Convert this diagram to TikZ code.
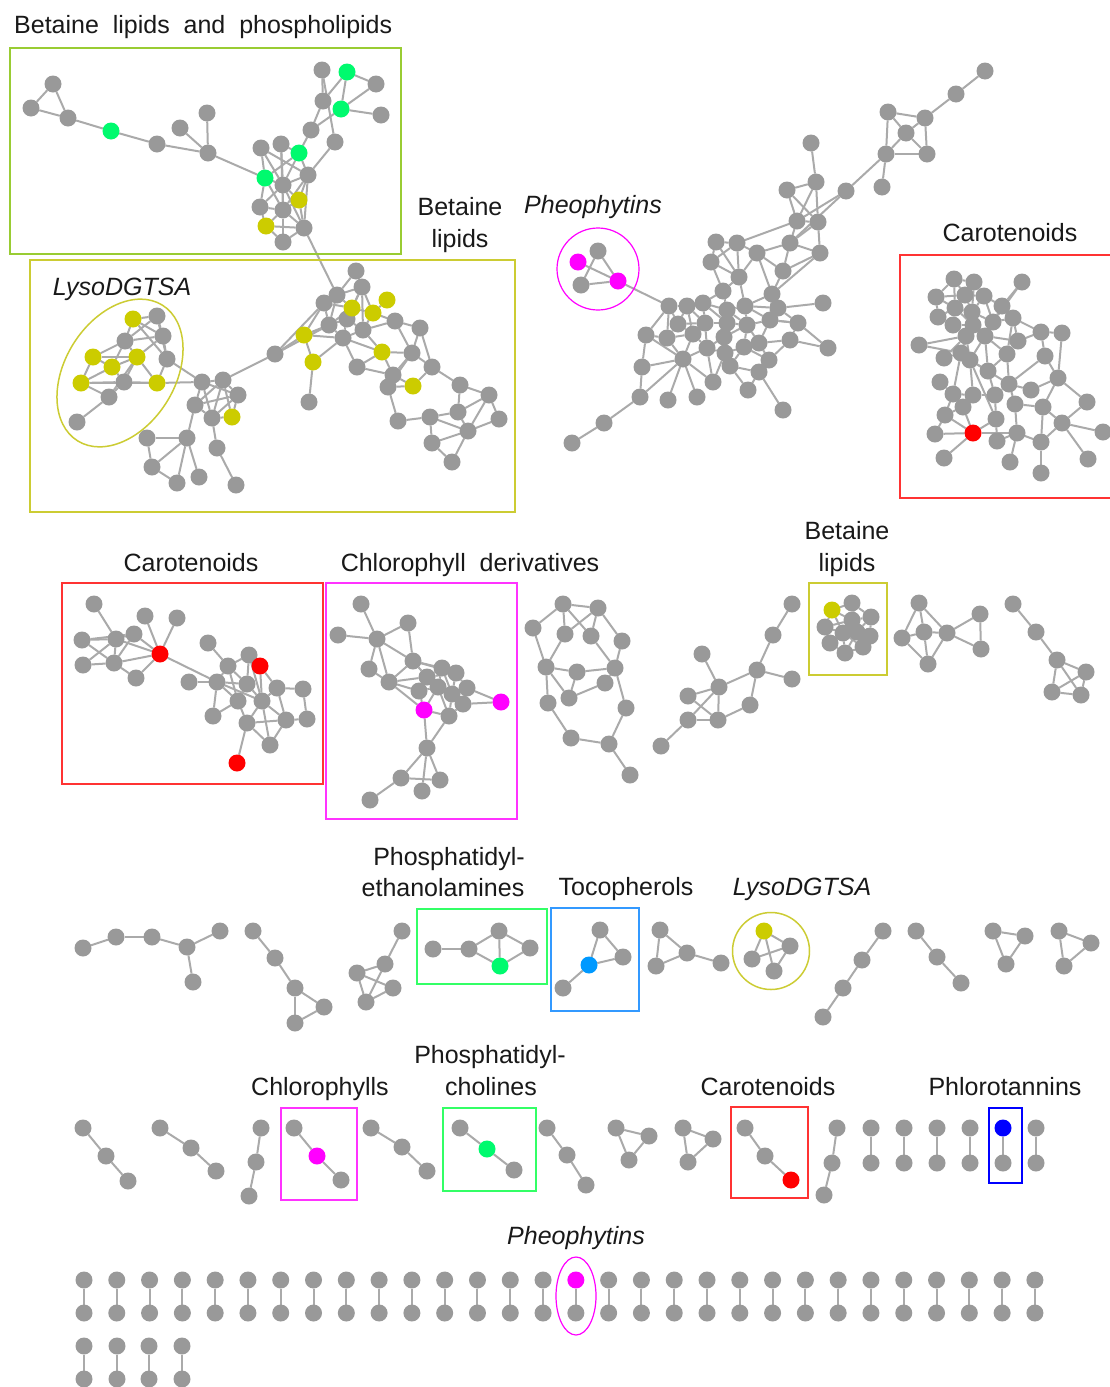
\documentclass[tikz,border=0pt]{standalone}
\usepackage{fontspec}
\setmainfont{Liberation Sans}
\definecolor{ndgray}{RGB}{153,153,153}
\definecolor{edgray}{RGB}{170,170,170}
\definecolor{ngreen}{RGB}{0,250,110}
\definecolor{nyel}{RGB}{204,204,0}
\definecolor{nmag}{RGB}{255,0,255}
\definecolor{nred}{RGB}{255,0,0}
\definecolor{ntoc}{RGB}{0,153,255}
\definecolor{nblue}{RGB}{0,0,255}
\definecolor{btlgreen}{RGB}{153,204,51}
\definecolor{blyso}{RGB}{204,204,51}
\definecolor{bred}{RGB}{255,51,51}
\definecolor{bmag}{RGB}{255,51,255}
\definecolor{bgreen}{RGB}{51,255,102}
\definecolor{btoc}{RGB}{51,153,255}
\pgfdeclarelayer{bg}
\pgfsetlayers{bg,main}
\begin{document}
\begin{tikzpicture}[x=1pt,y=-1pt,
  gn/.style={circle,fill=ndgray,draw=none,minimum size=17pt,inner sep=0pt,outer sep=0pt},
  ed/.style={draw=edgray,line width=2pt},
  lab/.style={font=\fontsize{25}{28}\selectfont,anchor=base,inner sep=0pt,text=black!90},
  frame/.style={line width=1.5pt}]
\useasboundingbox (0,0) rectangle (1110,1387);
\begin{pgfonlayer}{bg}
\fill[white] (0,0) rectangle (1110,1387);
\end{pgfonlayer}

% ---------- frames ----------
\draw[frame,btlgreen] (10,48) rectangle (401,254);
\draw[frame,blyso] (30,260) rectangle (515,512);
\draw[frame,blyso,rotate around={58:(120,373)}] (120,373) ellipse [x radius=80pt, y radius=55pt];
\draw[frame,nmag,line width=1.2pt] (598,269) circle [radius=41pt];
\draw[frame,bred] (900,255) rectangle (1120,498);
\draw[frame,bred] (62,583) rectangle (323,784);
\draw[frame,bmag] (326,583) rectangle (517,819);
\draw[frame,blyso] (809,583) rectangle (887,675);
\draw[frame,bgreen] (417,909) rectangle (547,984);
\draw[frame,btoc] (551,908) rectangle (639,1011);
\draw[frame,blyso] (771,951) circle [radius=38.5pt];
\draw[frame,bmag] (281,1108) rectangle (357,1200);
\draw[frame,bgreen] (443,1108) rectangle (536,1191);
\draw[frame,bred] (731,1107) rectangle (808,1198);
\draw[frame,nblue] (989,1108) rectangle (1022,1183);
\draw[frame,nmag,line width=1.2pt] (576,1296) ellipse [x radius=20pt, y radius=39pt];

% ---------- labels ----------
\node[lab,anchor=base west] (lbA) at (14,33) {Betaine~ lipids~ and~ phospholipids};
\node[lab] (lbB1) at (460,215) {Betaine};
\node[lab] (lbB2) at (460,247) {lipids};
\node[lab,font=\fontsize{25}{28}\selectfont\itshape] (lbC) at (593,213) {Pheophytins};
\node[lab] (lbD) at (1010,241) {Carotenoids};
\node[lab,font=\fontsize{25}{28}\selectfont\itshape] (lbE) at (122,295) {LysoDGTSA};
\node[lab] (lbF) at (191,571) {Carotenoids};
\node[lab] (lbG) at (470,571) {Chlorophyll~ derivatives};
\node[lab] (lbH1) at (847,539) {Betaine};
\node[lab] (lbH2) at (847,571) {lipids};
\node[lab] (lbI1) at (449,865) {Phosphatidyl-};
\node[lab] (lbI2) at (443,896) {ethanolamines};
\node[lab] (lbJ) at (626,895) {Tocopherols};
\node[lab,font=\fontsize{25}{28}\selectfont\itshape] (lbK) at (802,895) {LysoDGTSA};
\node[lab] (lbL) at (320,1095) {Chlorophylls};
\node[lab] (lbM1) at (490,1063) {Phosphatidyl-};
\node[lab] (lbM2) at (491,1095) {cholines};
\node[lab] (lbN) at (768,1095) {Carotenoids};
\node[lab] (lbO) at (1005,1095) {Phlorotannins};
\node[lab,font=\fontsize{25}{28}\selectfont\itshape] (lbP) at (576,1244) {Pheophytins};

% ---------- gray nodes ----------
\foreach \n/\x/\y in {
 a1/53/84, a2/31/108, a3/68/118, a4/157/144, a5/180/128, a6/207/113, a7/208/153,
 a8/261/148, a9/281/144, a10/308/175, a11/283/185, a12/260/207, a13/283/210,
 a14/304/228, a15/283/242, a16/311/130, a17/335/142, a18/323/101, a19/322/70,
 a20/376/84, a21/381/115,
 b1/157/316, b2/125/341, b3/163/336, b4/167/359, b5/124/382, b6/109/397, b7/77/422,
 c1/202/382, c2/223/380, c3/238/395, c4/195/405, c5/212/418, c6/275/354,
 d1/147/438, d2/187/438, d3/152/467, d4/177/483, d5/199/477, d6/217/448, d7/236/485,
 e1/356/271, e2/362/287, e3/337/295, e4/324/303, e5/347/319, e6/329/325, e7/363/330,
 e8/395/321, e9/420/328, e10/343/338, e11/412/353, e13/357/367, e14/432/367,
 e15/393/375, e16/388/387, e17/309/402, e18/460/385, e19/489/395, e20/398/421,
 e21/430/417, e22/458/412, e23/499/419, e24/468/431, e25/432/443, e26/452/462,
 ta/985/71, tb/956/94, tc/925/118, td/888/112, te/906/133, tf/886/154, tg/927/154, th/882/187,
 f1/811/143, f2/816/182, f3/787/190, f4/846/191, f5/797/221, f6/818/222, f7/790/243,
 f8/716/242, f9/737/243,
 h42/711/262, h43/757/253, h44/783/271, h48/820/253, h39/739/277, h38/723/291,
 h22/772/294, h36/823/303,
 h1/669/306, h2/687/306, h3/703/303, h4/678/324, h5/705/323, h6/646/335, h7/667/338,
 h8/693/334, h9/727/310, h10/727/323, h11/724/337, h12/747/325, h13/745/306,
 h14/707/348, h15/683/359, h16/725/353, h17/730/366, h18/744/347, h19/759/343,
 h20/770/320, h21/778/308, h23/798/323, h24/790/340, h25/769/360, h26/759/372,
 h27/642/367, h28/713/382, h29/748/390, h30/697/397, h31/668/400, h32/640/397,
 h33/604/423, h34/572/443, h35/783/410, h37/828/348,
 p2/598/251, p3/581/285,
 k1/954/279, k2/974/282, k3/1022/282, k4/936/297, k5/965/295, k6/984/296, k7/1002/306,
 k8/938/317, k9/955/308, k10/972/312, k11/953/325, k12/973/325, k13/993/322,
 k14/1013/318, k15/966/336, k16/985/336, k17/1018/341, k18/1041/332, k19/1062/333,
 k20/919/345, k21/944/358, k22/961/353, k23/970/360, k24/1007/354, k25/1045/356,
 k26/988/371, k27/940/382, k28/1058/378, k29/1009/384, k30/1031/390, k31/953/394,
 k32/973/395, k33/995/395, k34/963/407, k35/1015/404, k36/1043/407, k37/1087/402,
 k38/945/415, k39/996/419, k40/1062/423, k41/935/434, k42/1017/433, k43/1103/432,
 k44/997/441, k45/1041/442, k46/944/458, k47/1010/462, k48/1088/459, k49/1041/473,
 l1/94/604, l2/145/616, l3/177/618, l4/82/640, l5/116/639, l6/134/634, l7/83/665,
 l8/114/663, l9/136/678, l10/208/643, l11/249/655, l12/228/666, l13/189/682,
 l14/217/682, l15/247/684, l16/277/688, l17/303/689, l18/238/701, l19/262/701,
 l20/213/716, l21/247/723, l22/286/720, l23/307/719, l24/270/745,
 m1/361/604, m2/408/623, m3/338/635, m4/377/639, m5/369/669, m6/413/661, m7/389/682,
 m8/427/677, m9/442/668, m10/456/673, m11/467/688, m12/463/704, m13/449/716,
 m14/419/691, m15/438/687, m16/452/694, m17/427/748, m18/401/778, m19/422/791,
 m20/440/780, m21/370/800,
 n1/563/604, n2/598/608, n3/533/628, n4/565/634, n5/591/636, n6/622/641, n7/546/667,
 n8/577/672, n9/615/668, n10/605/683, n11/569/698, n12/548/703, n13/626/708,
 n14/571/738, n15/609/744, n16/630/775,
 s1/792/604, s2/773/635, s3/702/654, s4/757/670, s5/792/679, s6/719/687, s7/688/696,
 s8/750/705, s9/688/720, s10/718/720, s11/661/746,
 bt1/852/603, bt2/871/617, bt3/825/627, bt4/843/633, bt5/857/632, bt6/870/636,
 bt7/830/643, bt8/863/647, bt9/845/653, bt10/852/620,
 u1/919/603, u2/902/638, u3/924/632, u4/947/633, u5/980/614, u6/981/649, u7/928/664,
 v1/1013/604, v2/1036/632, v3/1057/660, v4/1086/672, v5/1052/692, v6/1081/695,
 w1/83/948, w2/116/937, w3/152/937, w4/187/947, w5/220/931, w6/193/982,
 x1/253/931, x2/275/958, x3/295/988, x4/324/1007, x5/295/1023,
 z1/402/931, z2/385/964, z3/357/973, z4/393/988, z5/366/1002,
 pe1/433/949, pe2/469/949, pe3/499/931, pe4/530/948,
 tc1/600/930, tc2/623/957, tc3/563/988,
 q1/660/930, q2/687/953, q3/656/966, q4/721/963,
 ly2/790/946, ly3/752/959, ly4/774/971,
 ch1/883/931, ch2/862/960, ch3/843/988, ch4/823/1017,
 cs1/916/931, cs2/937/957, cs3/961/983,
 tra/993/931, trb/1025/936, trc/1006/964,
 tsa/1059/931, tsb/1091/943, tsc/1064/966,
 r4a1/83/1128, r4a2/106/1156, r4a3/128/1181,
 r4b1/160/1128, r4b2/191/1148, r4b3/216/1171,
 r4c1/261/1128, r4c2/256/1162, r4c3/249/1196,
 r4d1/294/1128, r4d3/341/1180,
 r4e1/371/1128, r4e2/402/1147, r4e3/427/1171,
 r4f1/460/1128, r4f3/514/1170,
 r4g1/547/1128, r4g2/567/1155, r4g3/586/1185,
 r4h1/616/1128, r4h2/649/1136, r4h3/629/1160,
 r4i1/683/1128, r4i2/713/1139, r4i3/688/1162,
 r4j1/745/1128, r4j2/765/1156,
 r4k1/837/1128, r4k2/832/1163, r4k3/824/1195,
 r4p1/871/1128, r4q1/871/1163, r4p2/904/1128, r4q2/904/1163,
 r4p3/937/1128, r4q3/937/1163, r4p4/970/1128, r4q4/970/1163,
 r4pb/1003/1163, r4p5/1036/1128, r4q5/1036/1163,
 r6a1/84/1346, r6b1/84/1379, r6a2/117/1346, r6b2/117/1379,
 r6a3/149/1346, r6b3/149/1379, r6a4/182/1346, r6b4/182/1379}
 \node[gn] (\n) at (\x,\y) {};

% ---------- coloured nodes ----------
\foreach \n/\x/\y/\c in {
 g1/111/131/ngreen, g2/265/178/ngreen, g3/299/153/ngreen, g4/341/109/ngreen, g5/347/72/ngreen,
 y1/299/200/nyel, y2/266/226/nyel,
 y3/133/319/nyel, y4/93/357/nyel, y5/137/357/nyel, y6/112/367/nyel, y7/81/383/nyel,
 y8/157/383/nyel, y9/232/417/nyel,
 y10/387/300/nyel, y11/352/308/nyel, y12/373/313/nyel, y13/304/335/nyel, y14/382/352/nyel,
 y15/313/362/nyel, y16/413/386/nyel,
 p1/578/262/nmag, p4/618/281/nmag,
 kr/973/433/nred,
 lr1/160/654/nred, lr2/260/666/nred, lr3/237/763/nred,
 mg1/424/710/nmag, mg2/501/702/nmag,
 bty/832/610/nyel,
 peg/500/966/ngreen, tcb/589/965/ntoc, ly/764/931/nyel,
 r4dm/317/1156/nmag, r4fg/487/1149/ngreen, r4jr/791/1180/nred, r4bl/1003/1128/nblue}
 \node[gn,fill=\c] (\n) at (\x,\y) {};

% ---------- bottom rows of pairs ----------
\foreach \i in {0,...,29}{
  \ifnum\i=15 \def\cc{nmag}\else\def\cc{ndgray}\fi
  \node[gn,fill=\cc] (qa\i) at ({84+32.79*\i},1280) {};
  \node[gn] (qb\i) at ({84+32.79*\i},1313) {};
}

% ---------- edges ----------
\begin{pgfonlayer}{bg}
\foreach \a/\b in {
 a1/a2, a1/a3, a2/a3, a3/g1, g1/a4, a4/a7, a5/a7, a6/a7, a7/g2,
 g2/a8, g2/a11, g2/a12, g2/g3, g2/a13, a8/a11, a8/a10, a9/a11, a9/g3, a9/a13,
 g3/a11, g3/a10, g3/a16, a10/a11, a10/y1, a10/a14, a10/a17, a10/a13,
 a11/y1, a11/a12, a11/a13, a11/a14, y1/a13, y1/a14, a12/a13, a12/y2,
 a13/y2, a13/a14, a13/a15, y2/a15, y2/a14, a14/a15,
 a16/a18, a16/g4, a18/a19, a18/g5, a19/a17, g5/g4, g5/a20, g4/a20, g4/a21, a14/e3,
 b7/b6, b6/y7, b6/y5, b6/b5, y7/y4, y7/y6, y7/b5, y7/y8, y4/y6, y4/b2, y4/y5,
 y6/b2, y6/y5, y6/b5, b2/y3, b2/b1, b2/y5, b2/b3, y3/b1, y3/b3, y3/b4, b1/b3,
 b1/b4, b3/b4, b3/y5, y5/y8, y5/b5, b5/y8, b4/c1, b4/y8, y8/c1,
 c1/c2, c1/c4, c1/c5, c1/c3, c2/c3, c2/c4, c2/c5, c2/y9, c3/c4, c3/c5, c4/c5,
 c5/y9, c3/y9, c2/c6, c4/d2, d2/d1, d2/d3, d2/d4, d2/d5, d1/d3, d3/d4, c5/d6, d6/d7,
 e1/e3, e1/e2, e2/e3, e2/y11, e2/e5, e2/e7, e2/y12, e3/e4, e3/y11, e3/e6, e4/e6,
 e4/y13, e4/y11, y11/e5, y11/y12, y11/e6, e5/e6, e5/e7, e5/e10, e6/y13, e6/e10,
 e7/y12, e7/e8, e7/e10, e7/y14, y12/e8, y12/y10, y13/c6, y13/e10, y13/y15, e10/y15,
 e10/e13, e10/y14, e8/e9, e8/e11, e9/e11, e9/e14, e11/y14, e11/e14, e11/e15,
 y14/e15, y14/e13, e13/e15, e15/e16, e15/y16, e16/y16, e16/e20, e14/y16, e14/e18,
 e18/e19, e18/e22, e19/e23, e19/e22, e19/e24, e20/e21, e21/e22, e21/e25, e21/e24,
 e22/e24, e23/e24, e24/e25, e25/e26, e24/e26, c6/e4, c6/e6, y15/e17, e11/e16}
 \draw[ed] (\a) -- (\b);
\foreach \a/\b in {
 ta/tb, tb/tc, tc/td, tc/te, tc/tg, td/te, td/tf, te/tf, te/tg, tf/tg, tf/f4, tf/th,
 f1/f2, f2/f3, f2/f5, f2/f6, f3/f5, f3/f6, f4/f5, f4/f7, f5/f6, f5/f7, f6/f7, f6/h48,
 f5/f9, f7/h43, f7/h44, f7/h48, f8/f9, f8/h42, f8/h39, f9/h42, f9/h39, f9/h43,
 h42/h38, h42/h39, h43/h39, h43/h44, h43/h22, h44/h48, h44/h22, h48/h22, h39/h38,
 h39/h13, h38/h9, h38/h3, h22/h21, h22/h20, h22/h13, h36/h21, h37/h23, h37/h24,
 h23/h21, h23/h24, h23/h20,
 h1/h2, h1/h4, h1/h6, h1/h7, h2/h3, h2/h4, h2/h5, h2/h8, h3/h5, h3/h9, h3/h10,
 h4/h5, h4/h7, h4/h8, h5/h8, h5/h10, h5/h14, h6/h7, h6/h27, h6/h15, h7/h8, h7/h15,
 h8/h14, h8/h15, h9/h10, h9/h13, h9/h12, h10/h11, h10/h12, h10/h16, h11/h14,
 h11/h16, h11/h12, h11/h17, h12/h13, h12/h18, h12/h19, h12/h20, h13/h21, h14/h15,
 h14/h16, h14/h28, h15/h27, h15/h28, h15/h30, h15/h31, h15/h32, h16/h17, h16/h18,
 h17/h18, h17/h26, h17/h29, h18/h19, h18/h25, h19/h20, h19/h24, h19/h25, h20/h21,
 h20/h23, h24/h25, h25/h26, h26/h29, h26/h35, h27/h32, h32/h33, h33/h34, h16/h28,
 h9/h11, h13/h20, p4/h1,
 p1/p4, p2/p3, p2/p4, p3/p4}
 \draw[ed] (\a) -- (\b);
\foreach \a/\b in {
 k1/k2, k1/k4, k1/k5, k1/k9, k2/k5, k2/k6, k2/k10, k4/k5, k4/k8, k4/k9, k5/k6,
 k5/k9, k5/k10, k6/k7, k6/k10, k6/k13, k3/k7, k3/k13, k7/k13, k7/k14, k8/k9,
 k8/k11, k9/k10, k9/k11, k9/k12, k10/k12, k10/k13, k11/k12, k11/k15, k12/k15,
 k12/k16, k13/k16, k13/k14, k14/k17, k14/k18, k14/k24, k16/k17, k17/k18, k18/k19,
 k18/k25, k19/k28, k20/k15, k20/k22, k15/k22, k15/k23, k16/k23, k16/k24, k21/k22,
 k22/k23, k22/k31, k23/k26, k23/k32, k23/k29, k24/k29, k24/k26, k25/k28, k26/k33,
 k28/k30, k28/k36, k28/k37, k29/k30, k29/k35, k29/k33, k27/k31, k31/k32, k31/k34,
 k31/k38, k32/k33, k32/k34, k33/k39, k35/k36, k35/k42, k36/k40, k36/k45, k37/k40,
 k40/k43, k40/k45, k38/k41, k38/kr, k34/kr, k34/k38, kr/k39, kr/k41, kr/k46,
 kr/k42, k39/k44, k42/k44, k42/k47, k42/k45, k45/k49, k40/k48, k23/k39, k12/k22,
 k16/k26, k15/k21, k25/k29}
 \draw[ed] (\a) -- (\b);
\foreach \a/\b in {
 l1/l5, l2/lr1, l3/lr1, l4/l5, l4/l8, l4/l6, l5/l6, l5/l8, l5/l7, l5/lr1, l6/lr1,
 l6/l8, l7/l8, l8/lr1, l8/l9, l9/lr1, lr1/l14, l10/l12, l12/l14, l12/l11, l12/l15,
 l12/l18, l14/l15, l14/l18, l14/l20, l14/l19, l11/l15, lr2/l19, lr2/l16, l15/l18,
 l15/l19, l16/l19, l16/l17, l16/l22, l17/l23, l19/l21, l19/l22, l19/l24, l18/l20,
 l18/l21, l21/l24, l21/lr3, l22/l23, l22/l24, l21/l22, l11/l19, l13/l14,
 m1/m4, m3/m4, m4/m2, m4/m5, m4/m6, m4/m7, m2/m6, m6/m7, m5/m7, m6/m8, m6/m9,
 m7/m8, m7/m14, m7/mg1, m8/m9, m8/m14, m8/m15, m9/m10, m9/m15, m10/m11, m10/m16,
 m11/m12, m11/m16, m12/m13, m12/m16, m13/mg1, m13/m16, m14/mg1, m14/m15, m15/m16,
 m15/mg1, m15/m13, m8/m10, m9/m16, mg2/m11, mg2/m12, mg1/m17, m13/m17, m17/m18,
 m17/m19, m17/m20, m18/m20, m18/m21, m6/m10,
 n1/n3, n1/n4, n1/n2, n1/n5, n2/n4, n2/n5, n2/n6, n3/n7, n4/n7, n5/n9, n6/n9,
 n7/n8, n7/n12, n7/n11, n8/n9, n8/n11, n9/n10, n9/n13, n10/n11, n12/n14, n13/n15,
 n14/n15, n15/n16,
 s1/s2, s2/s4, s4/s5, s4/s6, s4/s8, s3/s6, s6/s7, s6/s9, s6/s10, s7/s10, s8/s10,
 s9/s10, s9/s11,
 bty/bt1, bty/bt3, bty/bt10, bty/bt4, bt1/bt2, bt1/bt10, bt1/bt5, bt2/bt6, bt2/bt5,
 bt2/bt10, bt3/bt4, bt3/bt7, bt3/bt10, bt4/bt5, bt4/bt7, bt4/bt9, bt5/bt6, bt5/bt8,
 bt6/bt8, bt7/bt9, bt8/bt9, bt10/bt4, bt10/bt5, bt4/bt8, bt5/bt9,
 u1/u2, u1/u3, u1/u4, u2/u3, u2/u7, u3/u4, u3/u7, u4/u7, u4/u5, u4/u6, u5/u6,
 v1/v2, v2/v3, v3/v4, v3/v5, v3/v6, v4/v5, v4/v6, v5/v6}
 \draw[ed] (\a) -- (\b);
\foreach \a/\b in {
 w1/w2, w2/w3, w3/w4, w4/w5, w4/w6,
 x1/x2, x2/x3, x3/x4, x3/x5, x4/x5,
 z1/z2, z2/z3, z2/z5, z3/z4, z3/z5, z5/z4,
 pe1/pe2, pe2/pe3, pe2/peg, pe3/peg, pe3/pe4, pe4/peg,
 tc1/tcb, tc1/tc2, tcb/tc2, tcb/tc3,
 q1/q2, q1/q3, q3/q2, q2/q4,
 ly/ly2, ly/ly3, ly/ly4, ly2/ly3, ly2/ly4,
 ch1/ch2, ch2/ch3, ch3/ch4, cs1/cs2, cs2/cs3,
 tra/trb, trb/trc, trc/tra, tsa/tsb, tsb/tsc, tsc/tsa,
 r4a1/r4a2, r4a2/r4a3, r4b1/r4b2, r4b2/r4b3, r4c1/r4c2, r4c2/r4c3,
 r4d1/r4dm, r4dm/r4d3, r4e1/r4e2, r4e2/r4e3, r4f1/r4fg, r4fg/r4f3,
 r4g1/r4g2, r4g2/r4g3, r4h1/r4h2, r4h2/r4h3, r4h3/r4h1, r4i1/r4i2, r4i2/r4i3,
 r4i3/r4i1, r4j1/r4j2, r4j2/r4jr, r4k1/r4k2, r4k2/r4k3,
 r4p1/r4q1, r4p2/r4q2, r4p3/r4q3, r4p4/r4q4, r4bl/r4pb, r4p5/r4q5,
 r6a1/r6b1, r6a2/r6b2, r6a3/r6b3, r6a4/r6b4}
 \draw[ed] (\a) -- (\b);
\foreach \i in {0,...,29} \draw[ed] (qa\i) -- (qb\i);
\end{pgfonlayer}
\end{tikzpicture}
\end{document}
